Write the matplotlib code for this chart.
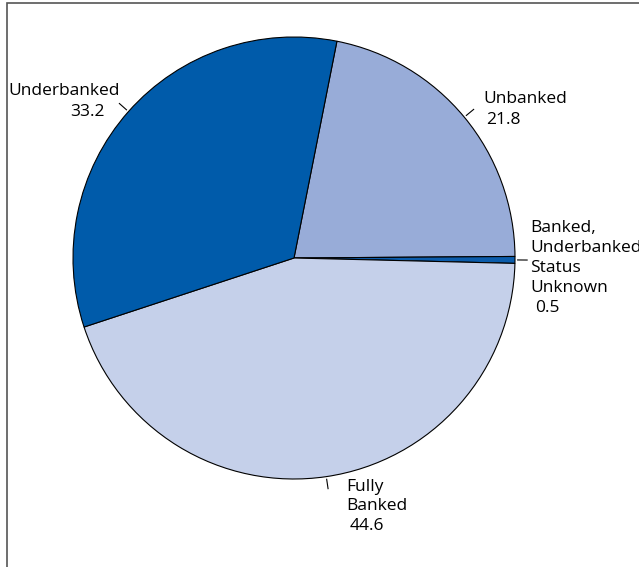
import matplotlib.pyplot as plt
from matplotlib.patches import Rectangle
import numpy as np

plt.rcParams['font.family'] = ['Open Sans', 'DejaVu Sans']

# household banking status shares (percent), drawn clockwise
names = ['Unbanked', 'Banked, Underbanked Status Unknown', 'Fully Banked', 'Underbanked']
shares = [21.8, 0.5, 44.6, 33.2]
colors = ['#98acd8', '#0b5cab', '#c5d0ea', '#005baa']

W, H = 639, 567
CX, CY, R = 294, 258, 221  # pie centre and radius in pixels


def px(x, y):
    # pixel position -> data coords (pie radius = 1)
    return (x - CX) / R, (CY - y) / R


fig = plt.figure(figsize=(W / 100, H / 100), dpi=100)
ax = fig.add_axes([0, 0, 1, 1])
ax.set_xlim(-CX / R, (W - CX) / R)
ax.set_ylim((CY - H) / R, CY / R)
ax.axis('off')

# thin frame line along top and left
fig.patches.append(Rectangle((7 / W, -0.1), 1.2, 1 - 3 / H + 0.1, transform=fig.transFigure,
                             fill=False, ec='#555555', lw=1.2))

start = 78.8
wedges, _ = ax.pie(shares, colors=colors, startangle=start, counterclock=False,
                   radius=1, center=(0, 0), frame=True,
                   wedgeprops=dict(edgecolor='black', linewidth=0.8))
ax.set_xlim(-CX / R, (W - CX) / R)
ax.set_ylim((CY - H) / R, CY / R)
ax.axis('off')

# short radial leader ticks at each slice's middle
for w in wedges:
    mid = np.deg2rad((w.theta1 + w.theta2) / 2)
    r0, r1 = 1.012, 1.055
    ax.plot([r0 * np.cos(mid), r1 * np.cos(mid)], [r0 * np.sin(mid), r1 * np.sin(mid)],
            color='black', lw=0.8)

fs = 12.5
lines = {
    'Unbanked': [('Unbanked', 483, 103), (f'{shares[0]}', 486, 124)],
    'Banked, Underbanked Status Unknown': [('Banked,', 530, 232), ('Underbanked', 530, 252),
                                           ('Status', 530, 272), ('Unknown', 530, 292),
                                           (f'{shares[1]}', 535, 312)],
    'Fully Banked': [('Fully', 346, 491), ('Banked', 346, 510), (f'{shares[2]}', 350, 530)],
    'Underbanked': [('Underbanked', 8, 95), (f'{shares[3]}', 70, 116)],
}
for name in names:
    for txt, x, y in lines[name]:
        ax.text(*px(x, y), txt, fontsize=fs, ha='left', va='baseline', color='black')

fig.savefig('out.png', dpi=100)
